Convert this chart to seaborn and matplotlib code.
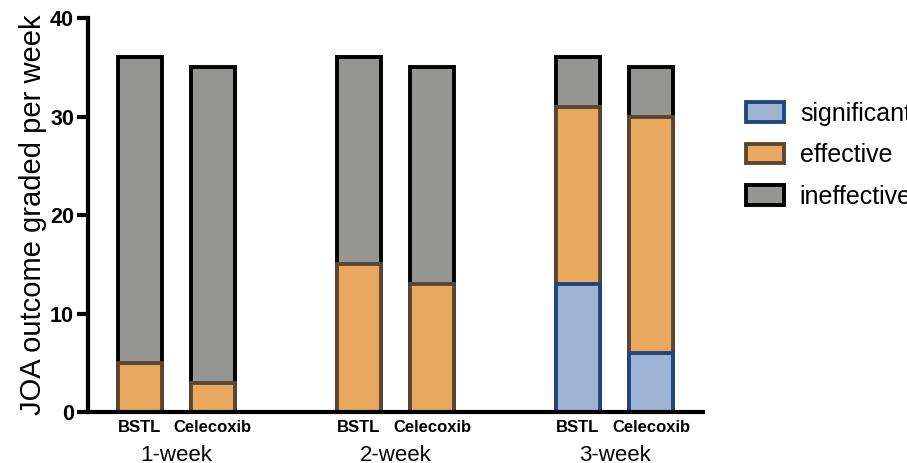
import numpy as np
import pandas as pd
import matplotlib
matplotlib.use("Agg")
import matplotlib.pyplot as plt
import matplotlib.transforms as mtransforms
from matplotlib.patches import Patch
import seaborn as sns

weeks = ["1-week", "2-week", "3-week"]
drugs = ["BSTL", "Celecoxib"]

# values per bar, ordered 1-week BSTL, 1-week Celecoxib, 2-week BSTL, ...
significant = [0, 0, 0, 0, 13, 6]
effective   = [5, 3, 15, 13, 18, 24]
ineffective = [31, 32, 21, 22, 5, 5]

layers = ["significant", "effective", "ineffective"]
fills  = {"significant": "#9db4d6", "effective": "#e8a85f", "ineffective": "#959694"}
edges  = {"significant": "#20467a", "effective": "#5b4731", "ineffective": "#000000"}

sns.set_style("ticks")
plt.rcParams["font.family"] = ["Liberation Sans", "DejaVu Sans"]
plt.rcParams["text.color"] = "black"
plt.rcParams["axes.labelcolor"] = "black"
plt.rcParams["xtick.color"] = "black"
plt.rcParams["ytick.color"] = "black"
plt.rcParams["axes.edgecolor"] = "black"

rows = []
for i in range(len(effective)):
    g, d = divmod(i, len(drugs))
    rows.append({
        "week": weeks[g], "drug": drugs[d], "pos": g * 3 + d,
        "significant": significant[i],
        "effective": effective[i],
        "ineffective": ineffective[i],
    })
df = pd.DataFrame(rows)

# cumulative tops, so the stacks can be drawn back to front
df["top_significant"] = df["significant"]
df["top_effective"]   = df["significant"] + df["effective"]
df["top_ineffective"] = df["top_effective"] + df["ineffective"]

fig = plt.figure(figsize=(9.07, 4.63), dpi=100)
ax = fig.add_axes([0.097, 0.110, 0.678, 0.851])

for layer in reversed(layers):
    sub = df[df[layer] > 0]
    sns.barplot(data=sub, x="pos", y=f"top_{layer}", native_scale=True,
                width=0.6, color=fills[layer], edgecolor=edges[layer],
                linewidth=2.8, errorbar=None, ax=ax, saturation=1)

ax.set_xlim(-0.71, 7.71)
ax.set_ylim(0, 40)
ax.set_yticks([0, 10, 20, 30, 40])
ax.set_xticks(df["pos"])
ax.set_xticklabels(df["drug"], fontsize=12, fontweight="bold")
for lab in ax.get_yticklabels():
    lab.set_fontweight("bold")
ax.tick_params(axis="y", labelsize=15.5, width=3, length=8, pad=2)
ax.tick_params(axis="x", length=0, pad=6)
ax.set_xlabel("")
ax.set_ylabel("JOA outcome graded per week", fontsize=21, labelpad=2)

sns.despine(ax=ax)
for side in ["left", "bottom"]:
    ax.spines[side].set_linewidth(3)

trans = mtransforms.blended_transform_factory(ax.transData, ax.transAxes)
for g, wk in enumerate(weeks):
    ax.text(g * 3 + 0.5, -0.083, wk, transform=trans, ha="center", va="top",
            fontsize=16)

handles = [Patch(facecolor=fills[l], edgecolor=edges[l], linewidth=2.8)
           for l in layers]
fig.legend(handles, layers, loc="upper left", bbox_to_anchor=(0.798, 0.829),
           frameon=False, fontsize=18, handlelength=1.5, handleheight=0.85,
           labelspacing=0.7, handletextpad=0.64)

fig.savefig("out.png", dpi=100)
